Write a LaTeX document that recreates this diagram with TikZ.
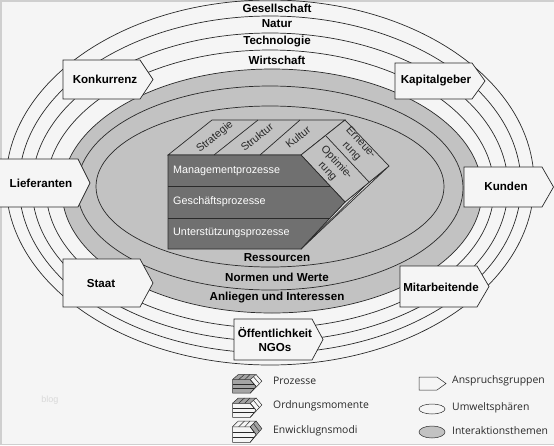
\documentclass[tikz,border=0pt]{standalone}
\usepackage{fontspec}
\setmainfont{Liberation Sans}
\newfontfamily\legfont{Open Sans}
\definecolor{bg}{HTML}{F5F5F5}
\definecolor{band}{HTML}{C2C2C2}
\definecolor{dark}{HTML}{707070}
\definecolor{ink}{HTML}{2A2A2A}
\definecolor{edge}{HTML}{CFCFCF}
\definecolor{midgray}{HTML}{A4A4A4}
\newcommand{\fsz}[1]{\fontsize{#1}{#1}\selectfont}
\tikzset{
  ring/.style={draw=ink,line width=0.7pt},
  gbox/.style={draw=ink,line width=0.7pt,fill=bg},
  lab/.style={inner sep=0pt,text=black,font=\fsz{11.6}\bfseries},
  boxlab/.style={inner sep=0pt,text=black,font=\fsz{11.6}\bfseries,align=center},
  proc/.style={inner sep=0pt,anchor=west,text=white,font=\fsz{10.8}},
  top/.style={inner sep=0pt,text=ink,font=\fontsize{10.8}{12.5}\selectfont,align=center},
  leg/.style={inner sep=0pt,anchor=west,text=ink,font=\legfont\fsz{10.4}},
  cubeline/.style={draw=ink,line width=0.7pt},
  iconline/.style={draw=ink,line width=0.5pt}
}
% box: name, x0, x1, tip, y0, y1, text
\newcommand{\pbox}[7]{%
  \draw[gbox] (#2,#5) -- (#3,#5) -- (#4,{(#5+#6)/2}) -- (#3,#6) -- (#2,#6) -- cycle;
}
% icon: x, y, yscale, front fill, top fill, right fill
\newcommand{\cubeicon}[6]{%
  \begin{scope}[shift={(#1,#2)},x=0.133pt,y=-#3pt]
    \fill[#4] (0,35) -- (133,35) -- (177,82) -- (133,129) -- (0,129) -- cycle;
    \fill[#5] (0,35) -- (44,0) -- (177,0) -- (133,35) -- cycle;
    \fill[#6] (133,35) -- (177,0) -- (221,46) -- (177,82) -- cycle;
    \draw[iconline] (0,35) -- (133,35) -- (177,82) -- (133,129) -- (0,129) -- cycle;
    \draw[iconline] (0,35) -- (44,0) -- (177,0) -- (133,35);
    \draw[iconline] (177,0) -- (221,46) -- (133,129);
    \draw[iconline] (177,82) -- (133,35);
    \draw[iconline] (0,66) -- (162,66) (0,98) -- (162,98);
    \draw[iconline] (46,35) -- (90,0) (92,35) -- (132,0);
    \draw[iconline] (158,16) -- (201,62);
  \end{scope}}
\begin{document}
\begin{tikzpicture}[x=1pt,y=-1pt]
\useasboundingbox (0,0) rectangle (554,445);
\fill[edge] (0,0) rectangle (554,445);
\fill[bg] (1.5,1.5) rectangle (554,443.5);
% rings
\begin{scope}
\clip (0,0) rectangle (554,445);
\draw[ring] (270,182.5) ellipse [x radius=264,y radius=182.5];
\draw[ring] (270,184.5) ellipse [x radius=251,y radius=168.5];
\draw[ring] (270,187) ellipse [x radius=238,y radius=154];
\draw[ring] (270,189) ellipse [x radius=224,y radius=139];
\end{scope}
\draw[ring,fill=band] (272,191) ellipse [x radius=210,y radius=122];
\draw[ring] (270,188) ellipse [x radius=193,y radius=102];
\draw[ring] (270,186.5) ellipse [x radius=174,y radius=80.5];
% ring labels
\node[lab] (gesellschaft) at (277,8.5) {Gesellschaft};
\node[lab] (natur) at (277,24) {Natur};
\node[lab] (technologie) at (277,41.5) {Technologie};
\node[lab] (wirtschaft) at (277,60.5) {Wirtschaft};
\node[lab] (ressourcen) at (277,258) {Ressourcen};
\node[lab] (normen) at (277,277) {Normen und Werte};
\node[lab] (anliegen) at (277,298) {Anliegen und Interessen};
% cube
\draw[cubeline,fill=bg!60!band] (301,249) -- (345,202) -- (389,166) -- cycle;
\draw[cubeline] (301,249) -- (369,182);
\draw[cubeline,fill=band] (168,155) -- (212,120) -- (345,120) -- (301,155) -- cycle;
\draw[cubeline,fill=band] (301,155) -- (345,120) -- (389,166) -- (345,202) -- cycle;
\draw[cubeline,fill=dark] (168,155) -- (301,155) -- (345,202) -- (301,249) -- (168,249) -- cycle;
\draw[cubeline] (168,186) -- (330,186) (168,218) -- (330,218);
\draw[cubeline] (214,155) -- (258,120) (260,155) -- (300,120);
\draw[cubeline] (326,136) -- (369,182);
\node[proc] (mgmt) at (173,171) {Managementprozesse};
\node[proc] (gesch) at (173,202) {Geschäftsprozesse};
\node[proc] (unter) at (173,233) {Unterstützungsprozesse};
\node[top,rotate=39] (strategie) at (215,137) {Strategie};
\node[top,rotate=39] (struktur) at (257,137) {Struktur};
\node[top,rotate=39] (kultur) at (298,137) {Kultur};
\node[top,rotate=-47] (erneu) at (356,147) {Erneue-\\rung};
\node[top,rotate=-47] (optim) at (332,167) {Optimie-\\rung};
% stakeholder boxes
\pbox{konk}{63}{140}{153}{60}{99}{}
\node[boxlab] (konkurrenz) at (105,79) {Konkurrenz};
\pbox{lief}{-2}{78}{90}{159}{207}{}
\node[boxlab] (lieferanten) at (41,183) {Lieferanten};
\pbox{staat}{63}{140}{153}{259}{307}{}
\node[boxlab] (staat) at (101,283) {Staat};
\pbox{oeff}{234}{312}{323}{319}{360}{}
\node[boxlab] (oeffentlich) at (275,339.5) {Öffentlichkeit\\[2pt]NGOs};
\pbox{kap}{395}{472}{485}{63}{99}{}
\node[boxlab] (kapital) at (436,81) {Kapitalgeber};
\pbox{kun}{464}{542}{553.5}{167}{207}{}
\node[boxlab] (kunden) at (506,186) {Kunden};
\pbox{mit}{400}{477}{489}{266}{307}{}
\node[boxlab] (mitarbeit) at (441,287) {Mitarbeitende};
% watermark
\node[inner sep=0pt,text=black!15,font=\fsz{9}] (blog) at (50,400) {blog};
% legend
\cubeicon{232.5}{374.5}{0.145}{midgray}{midgray}{bg}
\cubeicon{232.5}{398}{0.15}{bg}{midgray}{bg}
\cubeicon{232.5}{421}{0.165}{bg}{bg}{midgray}
\node[leg] (l1) at (273,381) {Prozesse};
\node[leg] (l2) at (273,406) {Ordnungsmomente};
\node[leg] (l3) at (273,431) {Enwicklugnsmodi};
\draw[gbox,line width=0.5pt] (419,377) -- (437,377) -- (446,383.5) -- (437,390) -- (419,390) -- cycle;
\draw[gbox,line width=0.5pt] (432,409) ellipse [x radius=13,y radius=5];
\draw[ring,line width=0.5pt,fill=band] (432,432) ellipse [x radius=13,y radius=6];
\node[leg] (l4) at (452,381) {Anspruchsgruppen};
\node[leg] (l5) at (452,408) {Umweltsphären};
\node[leg] (l6) at (452,431) {Interaktionsthemen};
\end{tikzpicture}
\end{document}
